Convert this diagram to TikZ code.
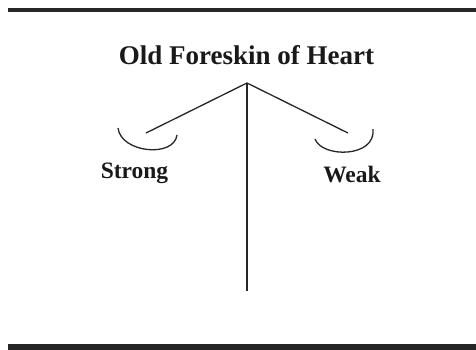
\documentclass[tikz,border=0pt]{standalone}
\usepackage{fontspec}
\setmainfont{Liberation Serif}
\begin{document}
\begin{tikzpicture}[x=1pt,y=-1pt,
  lbl/.style={inner sep=0pt, anchor=base, font=\bfseries, text=black!90},
  ln/.style={draw=black!85, line width=1.5pt},
  bar/.style={fill=black!85, draw=none}]
\useasboundingbox (0,0) rectangle (476,350);
\fill[bar] (8,8) rectangle (476,12.5);
\fill[bar] (8,343.5) rectangle (476,350);
\node[lbl, font=\bfseries\fontsize{27}{30}\selectfont] (title) at (246.5,65) {Old Foreskin of Heart};
\node[lbl, font=\bfseries\fontsize{23.5}{26}\selectfont] (strong) at (134.5,178) {Strong};
\node[lbl, font=\bfseries\fontsize{23.5}{26}\selectfont] (weak) at (352,182) {Weak};
\coordinate (apex) at (247,83);
\coordinate (foot) at (247,291);
\coordinate (lend) at (146,133);
\coordinate (rend) at (348,133);
\draw[ln] (apex) -- (foot);
\draw[ln, line width=1.3pt] (lend) -- (apex) -- (rend);
\draw[ln, line width=1.3pt] (118,128) .. controls (121,153) and (174,158) .. (177,135);
\draw[ln, line width=1.3pt] (315,139) .. controls (322,158) and (376,158) .. (373,129);
\end{tikzpicture}
\end{document}
